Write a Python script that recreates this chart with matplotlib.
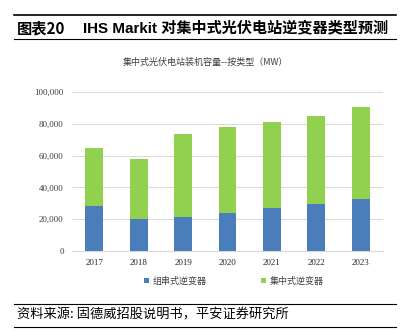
import numpy as np
import matplotlib
matplotlib.use('Agg')
import matplotlib.pyplot as plt
from matplotlib.lines import Line2D

plt.rcParams['font.family'] = ['Liberation Serif', 'Noto Sans CJK SC', 'DejaVu Sans']

# data (MW)
years = ['2017', '2018', '2019', '2020', '2021', '2022', '2023']
string_inv = [28000, 20000, 21500, 24000, 27300, 29800, 33000]
total = [65000, 58000, 73700, 78000, 81300, 85000, 90500]
central_inv = [t - s for t, s in zip(total, string_inv)]
yticks = [0, 20000, 40000, 60000, 80000, 100000]

blue = '#4a7ebb'
green = '#92d050'

fig = plt.figure(figsize=(4.10, 3.31), dpi=100)
ax = fig.add_axes([72/410, 1-251/331, 311/410, 159/331])

x = np.arange(len(years))
ax.bar(x, string_inv, width=0.4, color=blue, label='组串式逆变器', zorder=3)
ax.bar(x, central_inv, width=0.4, bottom=string_inv, color=green, label='集中式逆变器', zorder=3)

ax.set_xlim(-0.5, len(years)-0.5)
ax.set_ylim(0, 100000)
ax.set_yticks(yticks)
ax.set_yticklabels(['{:,}'.format(v) for v in yticks], fontsize=6.5, color='#404040')
ax.set_xticks(x)
ax.set_xticklabels(years, fontsize=6.5, color='#262626')
ax.tick_params(length=0, pad=6)
ax.yaxis.grid(True, color='#d9d9d9', lw=0.7, zorder=0)
for s in ['top', 'right', 'left']:
    ax.spines[s].set_visible(False)
ax.spines['bottom'].set_color('#d9d9d9')

# legend
leg = ax.legend(loc='upper center', bbox_to_anchor=(0.52, -0.11), ncol=2, frameon=False,
                handlelength=0.6, handleheight=0.6, columnspacing=6, handletextpad=0.4,
                prop={'family': ['Noto Sans CJK SC'], 'size': 6.5})
for t in leg.get_texts():
    t.set_color('#404040')

# chart title
fig.text(0.5, 1-62/331, '集中式光伏电站装机容量--按类型（MW）', ha='center', va='center',
         fontsize=6.5, color='#404040', family=['Noto Sans CJK SC'])

# header
fig.add_artist(Line2D([14/410, 396/410], [1-15/331, 1-15/331], color='black', lw=1.2))
fig.add_artist(Line2D([14/410, 396/410], [1-39/331, 1-39/331], color='black', lw=0.8))
fig.text(17/410, 1-28/331, '图表20', ha='left', va='center', fontsize=11, fontweight='bold',
         family=['Noto Sans CJK SC'])
fig.text(83/410, 1-28/331, 'IHS Markit 对集中式光伏电站逆变器类型预测', ha='left', va='center',
         fontsize=10.9, fontweight='bold', family=['Liberation Sans', 'Noto Sans CJK SC'])

# footer
fig.add_artist(Line2D([14/410, 396/410], [1-304/331, 1-304/331], color='black', lw=0.8))
fig.add_artist(Line2D([14/410, 396/410], [1-327/331, 1-327/331], color='black', lw=0.8))
fig.text(17/410, 1-315/331, '资料来源: 固德威招股说明书，平安证券研究所', ha='left', va='center',
         fontsize=9.5, style='italic', family=['Noto Sans CJK SC'])

fig.savefig('out.png', dpi=100)
